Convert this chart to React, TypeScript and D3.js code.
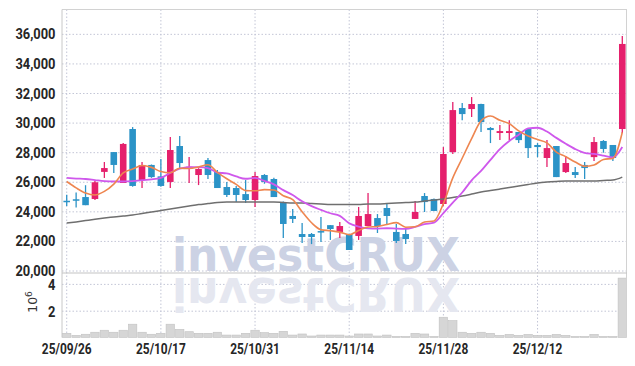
import * as d3 from 'd3';

// trading days shown on the chart
const dates = [
    "25/09/26", "25/09/29", "25/09/30", "25/10/01", "25/10/02", "25/10/10", "25/10/13", "25/10/14", "25/10/15", "25/10/16",
    "25/10/17", "25/10/20", "25/10/21", "25/10/22", "25/10/23", "25/10/24", "25/10/27", "25/10/28", "25/10/29", "25/10/30",
    "25/10/31", "25/11/03", "25/11/04", "25/11/05", "25/11/06", "25/11/07", "25/11/10", "25/11/11", "25/11/12", "25/11/13",
    "25/11/14", "25/11/17", "25/11/18", "25/11/19", "25/11/20", "25/11/21", "25/11/24", "25/11/25", "25/11/26", "25/11/27",
    "25/11/28", "25/12/01", "25/12/02", "25/12/03", "25/12/04", "25/12/05", "25/12/08", "25/12/09", "25/12/10", "25/12/11",
    "25/12/12", "25/12/15", "25/12/16", "25/12/17", "25/12/18", "25/12/19", "25/12/22", "25/12/23", "25/12/24", "25/12/26",
];

const opens = [
    24750, 24850, 25000, 24870, 26700, 28040, 25950, 29600, 26150, 27170,
    26400, 26020, 28450, 27000, 26490, 27500, 26700, 25680, 25610, 25200,
    24800, 26490, 26220, 24660, 23720, 22500, 22500, 22700, 23100, 22640,
    22500, 22370, 23040, 23580, 24260, 22640, 22500, 23520, 25070, 24870,
    24530, 28040, 31020, 30950, 31290, 29670, 29330, 29330, 29400, 29600,
    28520, 27640, 28450, 26690, 26690, 27170, 27700, 28790, 28520, 29600,
];
const highs = [
    25150, 25300, 25800, 26080, 27370, 28040, 28650, 29730, 27370, 27200,
    27570, 29060, 29130, 27700, 26950, 27640, 26830, 26020, 25750, 26150,
    26690, 26550, 26300, 24700, 24190, 23240, 22570, 23650, 23100, 23310,
    22520, 24330, 25270, 23850, 24600, 23180, 22840, 24730, 25270, 24900,
    28380, 31420, 31360, 31760, 31300, 29730, 29870, 30200, 29400, 29600,
    28650, 28850, 28450, 27770, 27030, 27370, 29060, 28850, 28520, 35890,
];
const lows = [
    24400, 24300, 24450, 24800, 26290, 26620, 25950, 25700, 25610, 26300,
    25700, 25610, 26900, 25950, 25810, 26220, 25610, 25000, 24660, 24600,
    24330, 25900, 25000, 22230, 23240, 21890, 21820, 21960, 22100, 22230,
    21420, 22100, 23040, 22570, 23110, 21890, 21820, 23520, 23990, 24060,
    24400, 27910, 30200, 30410, 29400, 28650, 28850, 28850, 28650, 27640,
    27700, 27030, 26350, 26620, 26290, 26220, 27440, 28000, 27440, 29330,
];
const closes = [
    24700, 24800, 24450, 26000, 26960, 27170, 28590, 25750, 27170, 26350,
    25750, 28180, 27300, 27050, 26900, 26490, 25610, 25140, 25140, 24800,
    26420, 26020, 25000, 23180, 23520, 22300, 22300, 22670, 22840, 23040,
    21420, 23720, 23850, 23040, 23720, 22030, 22160, 23990, 24660, 24060,
    27910, 30880, 30610, 31290, 30070, 29530, 29460, 29460, 28850, 28310,
    28380, 28310, 26350, 27300, 26490, 26960, 28720, 28250, 27640, 35350,
];
// volume in millions of shares
const volumes = [
    0.35, 0.2, 0.28, 0.43, 0.58, 0.43, 0.58, 1.03, 0.43, 0.28,
    0.35, 1.03, 0.65, 0.47, 0.35, 0.35, 0.43, 0.22, 0.22, 0.35,
    0.58, 0.4, 0.35, 0.5, 0.22, 0.3, 0.15, 0.22, 0.22, 0.22,
    0.15, 0.3, 0.3, 0.15, 0.22, 0.12, 0.12, 0.35, 0.3, 0.12,
    1.55, 1.3, 0.43, 0.35, 0.43, 0.35, 0.2, 0.27, 0.2, 0.27,
    0.2, 0.2, 0.27, 0.2, 0.12, 0.12, 0.27, 0.12, 0.12, 4.47,
];

// moving averages as drawn
const ma5 = [
    26050, 25620, 25270, 25140, 25382, 25876, 26634, 26894, 27128, 27006,
    26722, 26640, 26950, 26926, 27036, 27184, 26670, 26238, 25856, 25436,
    25422, 25504, 25476, 25084, 24828, 24004, 23260, 22794, 22726, 22630,
    22454, 22738, 22974, 23014, 23150, 23272, 22960, 22988, 23312, 23380,
    24556, 26300, 27624, 28950, 30152, 30476, 30192, 29962, 29474, 29122,
    28892, 28662, 28040, 27730, 27366, 27082, 27164, 27544, 27612, 29384,
];
const ma10 = [
    26290, 26250, 26220, 26150, 26080, 26050, 26050, 26080, 26150, 26194,
    26299, 26637, 26922, 27027, 27021, 26953, 26655, 26594, 26391, 26236,
    26303, 26087, 25857, 25470, 25132, 24713, 24382, 24135, 23905, 23729,
    23229, 22999, 22884, 22870, 22890, 22863, 22849, 22981, 23163, 23265,
    23914, 24630, 25306, 26131, 26766, 27516, 28246, 28793, 29212, 29637,
    29684, 29427, 29001, 28602, 28244, 27987, 27913, 27804, 27683, 28387,
];
const maLong = [
    23240, 23320, 23410, 23500, 23580, 23650, 23720, 23780, 23890, 23990,
    24090, 24190, 24290, 24390, 24490, 24560, 24630, 24660, 24660, 24660,
    24660, 24660, 24660, 24630, 24600, 24600, 24560, 24530, 24490, 24490,
    24490, 24490, 24530, 24530, 24560, 24600, 24630, 24660, 24730, 24800,
    24870, 24970, 25070, 25200, 25340, 25440, 25540, 25640, 25740, 25850,
    25950, 26010, 26050, 26080, 26080, 26080, 26080, 26120, 26150, 26350,
];

const priceTicks = [20000, 22000, 24000, 26000, 28000, 30000, 32000, 34000, 36000];
const volTicks = [2, 4];
const dateTickIdx = [0, 10, 20, 30, 40, 50];

const UP = "#e5206c";
const DOWN = "#2b93c7";
const FONT = "'Roboto', sans-serif";

const App = () => {
    const left = 62, right = 627, top = 9.5, split = 273, bottom = 337.5;

    const x = d3.scaleBand<string>().domain(dates).range([left, right]);
    const cx = (i: number) => (x(dates[i]) as number) + x.bandwidth() / 2;
    const y = d3.scaleLinear().domain([19865, 37680]).range([split, top]);
    const yv = d3.scaleLinear().domain([0, 4.85]).range([338, split]);

    const line = d3.line<number>().x((_, i) => cx(i)).y(d => y(d)).curve(d3.curveMonotoneX);
    const bodyW = x.bandwidth() * 0.7;

    return (
        <svg width="635" height="366" style={{ position: "absolute", left: 0, top: 0 }}>
            {/* grid */}
            {priceTicks.map(t => (
                <line key={t} x1={left} x2={right} y1={y(t)} y2={y(t)} stroke="#c3c6d6" strokeDasharray="1.5,2" />
            ))}
            {volTicks.map(t => (
                <line key={"v" + t} x1={left} x2={right} y1={yv(t)} y2={yv(t)} stroke="#c3c6d6" strokeDasharray="1.5,2" />
            ))}
            {dateTickIdx.map(i => (
                <line key={"d" + i} x1={cx(i)} x2={cx(i)} y1={top} y2={bottom} stroke="#c3c6d6" strokeDasharray="1.5,2" />
            ))}

            {/* watermark */}
            <g fontFamily="'DejaVu Sans', sans-serif" fontWeight="bold" fontSize="46">
                <text x={172} y={270.5} fill="#ccd2e4" textLength={288} lengthAdjust="spacingAndGlyphs">investCRUX</text>
                <text x={172} y={270.5} fill="#e5e7f0" textLength={288} lengthAdjust="spacingAndGlyphs"
                    transform="translate(0,548) scale(1,-1)">investCRUX</text>
            </g>

            {/* volume */}
            {volumes.map((v, i) => (
                <rect key={i} x={(x(dates[i]) as number) + 0.5} width={x.bandwidth() - 1}
                    y={yv(v)} height={bottom - yv(v)} fill="#d6d6d6" stroke="#c2c2c2" strokeWidth={0.6} />
            ))}

            {/* candles */}
            {dates.map((d, i) => {
                const up = closes[i] >= opens[i];
                const c = up ? UP : DOWN;
                const y0 = y(Math.max(opens[i], closes[i]));
                const y1 = y(Math.min(opens[i], closes[i]));
                return (
                    <g key={d}>
                        <line x1={cx(i)} x2={cx(i)} y1={y(highs[i])} y2={y(lows[i])} stroke={c} strokeWidth={1.3} />
                        <rect x={cx(i) - bodyW / 2} width={bodyW} y={y0} height={Math.max(1.5, y1 - y0)} fill={c} />
                    </g>
                );
            })}

            {/* moving averages */}
            <path d={line(maLong) ?? ""} fill="none" stroke="#6f6f6f" strokeWidth={1.5} />
            <path d={line(ma10) ?? ""} fill="none" stroke="#cf58ec" strokeWidth={1.8} />
            <path d={line(ma5) ?? ""} fill="none" stroke="#ee8650" strokeWidth={1.6} />

            {/* frame */}
            <line x1={left} x2={right} y1={top} y2={top} stroke="#d2d2d2" />
            <line x1={left} x2={left} y1={top} y2={bottom} stroke="#c8c8c8" />
            <line x1={right - 0.5} x2={right - 0.5} y1={top} y2={bottom} stroke="#d2d2d2" />
            <line x1={left} x2={right} y1={split} y2={split} stroke="#c4c4c4" strokeWidth={1.2} />

            {/* axes labels */}
            <g fontFamily={FONT} fontSize="14" fontWeight="bold" fill="#262626">
                {priceTicks.map(t => (
                    <text key={t} transform={`translate(55.5,${y(t)}) scale(0.92,1)`} dy="0.36em" textAnchor="end">{d3.format(",")(t)}</text>
                ))}
                {volTicks.map(t => (
                    <text key={"v" + t} transform={`translate(55.5,${yv(t) + 1}) scale(0.92,1)`} dy="0.36em" textAnchor="end">{t}</text>
                ))}
                {dateTickIdx.map(i => (
                    <text key={"d" + i} transform={`translate(${cx(i)},354) scale(0.85,1)`} textAnchor="middle">{dates[i]}</text>
                ))}
            </g>
            <text transform="translate(37,302) rotate(-90)" fontFamily="'DejaVu Sans', sans-serif" fontSize="12.5" fill="#333" textAnchor="middle">
                10<tspan dy="-5" fontSize="9">6</tspan>
            </text>
        </svg>
    );
};

export default App;
